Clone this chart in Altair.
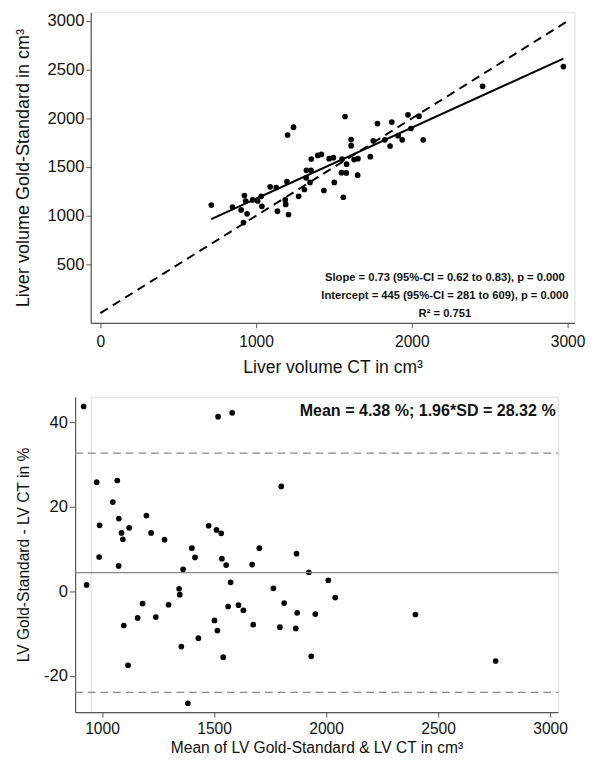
import altair as alt
import pandas as pd

# ---------- Top panel: regression ----------
ct_volume = [2973, 2454, 1571, 1202, 1240, 1779, 1871, 1975, 2046, 1994, 1912, 1938, 2073,
             1860, 1827, 1752, 1733, 1610, 1610, 1654, 1629, 1581, 1552, 1548, 1579, 1652,
             1496, 1469, 1419, 1396, 1354, 1323, 1352, 1321, 1346, 1502, 1310, 1435, 1198,
             1090, 1129, 925, 1033, 1273, 1560,
             712, 848, 904, 933, 942, 919, 977, 1010, 1037, 1137, 1187, 1190, 1208]
gs_volume = [2533, 2330, 2020, 1830, 1910, 1947, 1963, 2037, 2023, 1897, 1823, 1780, 1780,
             1717, 1780, 1770, 1607, 1783, 1720, 1587, 1577, 1530, 1583, 1443, 1440, 1417,
             1597, 1587, 1630, 1620, 1583, 1467, 1467, 1390, 1343, 1343, 1270, 1260, 1350,
             1297, 1290, 1207, 1200, 1200, 1190,
             1110, 1090, 1060, 1150, 1020, 930, 1163, 1153, 1097, 1047, 1163, 1117, 1013]

fit_x = [712, 2973]
fit_y = [965, 2615]
identity_x = [0, 3000]
identity_y = [0, 3000]

stats_text = ["Slope = 0.73 (95%-CI = 0.62 to 0.83), p = 0.000",
              "Intercept = 445 (95%-CI = 281 to 609), p = 0.000",
              "R² = 0.751"]
stats_x = [2212, 2212, 2212]
stats_y = [360, 170, -10]

# ---------- Bottom panel: Bland-Altman ----------
ba_mean = [918, 1518, 1581, 976, 1068, 1800, 1048, 1198, 989, 1075, 1121, 1087, 1093, 1219,
           1279, 1476, 1511, 1532, 1401, 1702, 1868, 987, 1415, 1535,
           1074, 1554, 1670, 1362, 931, 1574, 1923, 2010, 1344, 1347, 1765, 2041, 1181, 1297,
           1563, 1609, 1631, 1813, 1871, 1952, 1159, 1240, 1502, 1097, 1675, 1515, 1794, 1865,
           2399, 1430, 1354, 1541, 1934, 1116, 2757, 1383]
ba_diff = [43.7, 41.3, 42.2, 25.8, 26.2, 24.8, 21.1, 17.9, 15.6, 17.2, 15.0, 13.8, 12.3, 13.8,
           12.2, 15.5, 14.5, 13.7, 10.2, 10.2, 8.9, 8.1, 8.0, 7.7,
           6.0, 6.2, 6.3, 5.2, 1.5, 2.1, 4.5, 2.6, 0.6, -0.8, 0.7, -1.5, -2.9, -3.2,
           -3.6, -3.3, -4.5, -2.8, -5.1, -5.4, -6.3, -6.1, -6.9, -8.1, -7.9, -9.3, -8.5, -8.8,
           -5.5, -11.1, -13.1, -15.6, -15.4, -17.5, -16.5, -26.5]

mean_diff = 4.38
limits = [32.70, -23.94]
ba_text = ["Mean = 4.38 %; 1.96*SD = 28.32 %"]

BOT_X_DOMAIN = [880, 3035]

FONT = "Liberation Sans"
AXIS_COLOR = "#555555"

# ---------- build top ----------
top_pts = pd.DataFrame({"ct": ct_volume, "gs": gs_volume})
fit_df = pd.DataFrame({"ct": fit_x, "gs": fit_y})
id_df = pd.DataFrame({"ct": identity_x, "gs": identity_y})
st_df = pd.DataFrame({"t": stats_text, "x": stats_x, "y": stats_y})

xs_top = alt.Scale(domain=[-62, 3044], nice=False, zero=False)
ys_top = alt.Scale(domain=[-100, 3090], nice=False, zero=False)

x_top_axis = alt.Axis(values=[0, 1000, 2000, 3000], format="d", title="Liver volume CT in cm³",
                      grid=False, labelFontSize=16, titleFontSize=18, titleFontWeight="normal",
                      labelFont=FONT, titleFont=FONT, domainColor=AXIS_COLOR, tickColor=AXIS_COLOR,
                      tickSize=5, labelPadding=6, titlePadding=10, labelColor="#111",
                      titleColor="#111", labelFlush=False, domainWidth=1.2)
y_top_axis = alt.Axis(values=[500, 1000, 1500, 2000, 2500, 3000], format="d",
                      title="Liver volume Gold-Standard in cm³",
                      grid=False, labelFontSize=17, titleFontSize=18.5, titleFontWeight="normal",
                      labelFont=FONT, titleFont=FONT, domainColor=AXIS_COLOR, tickColor=AXIS_COLOR,
                      tickSize=5, labelPadding=2, titlePadding=15, labelColor="#111",
                      titleColor="#111", labelFlush=False, domainWidth=1.2)

top_identity = alt.Chart(id_df).mark_line(color="black", strokeWidth=2, strokeDash=[9, 6]).encode(
    x=alt.X("ct:Q", scale=xs_top, axis=x_top_axis),
    y=alt.Y("gs:Q", scale=ys_top, axis=y_top_axis))
top_fit = alt.Chart(fit_df).mark_line(color="black", strokeWidth=2).encode(
    x=alt.X("ct:Q", scale=xs_top), y=alt.Y("gs:Q", scale=ys_top))
top_points = alt.Chart(top_pts).mark_circle(color="black", opacity=1, size=34).encode(
    x=alt.X("ct:Q", scale=xs_top), y=alt.Y("gs:Q", scale=ys_top))
top_text = alt.Chart(st_df).mark_text(font=FONT, fontSize=11.5, fontWeight="bold", color="#111",
                                      align="center", baseline="middle").encode(
    x=alt.X("x:Q", scale=xs_top), y=alt.Y("y:Q", scale=ys_top), text="t:N")

top = alt.layer(top_identity, top_fit, top_points, top_text).properties(width=497, height=319)

# ---------- build bottom ----------
# the bottom plot's axis sits 16px left of the top one: extend the x range leftwards
ba_df = pd.DataFrame({"m": ba_mean, "d": ba_diff})
mean_df = pd.DataFrame({"d": [mean_diff], "x0": [BOT_X_DOMAIN[0]], "x1": [BOT_X_DOMAIN[1]]})
lim_df = pd.DataFrame({"d": limits, "x0": [BOT_X_DOMAIN[0]] * 2, "x1": [BOT_X_DOMAIN[1]] * 2})
bt_df = pd.DataFrame({"t": ba_text, "x": [3025], "y": [42.6]})

SHIFT = 16
BOT_W = 480
xs_bot = alt.Scale(domain=BOT_X_DOMAIN, nice=False, zero=False, range=[-SHIFT, BOT_W])
ys_bot = alt.Scale(domain=[-28.6, 46], nice=False, zero=False)

x_bot_axis = alt.Axis(values=[1000, 1500, 2000, 2500, 3000], format="d",
                      title="Mean of LV Gold-Standard & LV CT in cm³",
                      grid=False, labelFontSize=16, titleFontSize=16, titleFontWeight="normal",
                      labelFont=FONT, titleFont=FONT, domainColor=AXIS_COLOR, tickColor=AXIS_COLOR,
                      tickSize=5, labelPadding=4, titlePadding=3, labelColor="#111",
                      titleColor="#111", labelFlush=False, domainWidth=1.2)
y_bot_axis = alt.Axis(values=[-20, 0, 20, 40], labelExpr="toString(datum.value)",
                      title="LV Gold-Standard - LV CT in %",
                      grid=False, labelFontSize=17, titleFontSize=16, titleFontWeight="normal",
                      labelFont=FONT, titleFont=FONT, domainColor=AXIS_COLOR, tickColor=AXIS_COLOR,
                      tickSize=6, labelPadding=2, titlePadding=12, labelColor="#111",
                      titleColor="#111", labelFlush=False, domainWidth=1.2, offset=SHIFT)

bot_points = alt.Chart(ba_df).mark_circle(color="black", opacity=1, size=34).encode(
    x=alt.X("m:Q", scale=xs_bot, axis=x_bot_axis),
    y=alt.Y("d:Q", scale=ys_bot, axis=y_bot_axis))
bot_mean = alt.Chart(mean_df).mark_rule(color="#888888", strokeWidth=1.3).encode(
    x=alt.X("x0:Q", scale=xs_bot), x2="x1:Q", y=alt.Y("d:Q", scale=ys_bot))
bot_lim = alt.Chart(lim_df).mark_rule(color="#888888", strokeWidth=1.3, strokeDash=[8, 5]).encode(
    x=alt.X("x0:Q", scale=xs_bot), x2="x1:Q", y=alt.Y("d:Q", scale=ys_bot))
bot_text = alt.Chart(bt_df).mark_text(font=FONT, fontSize=16.5, fontWeight="bold", color="#111",
                                      align="right", baseline="middle").encode(
    x=alt.X("x:Q", scale=xs_bot), y=alt.Y("y:Q", scale=ys_bot), text="t:N")

bottom = alt.layer(bot_points, bot_mean, bot_lim, bot_text).properties(width=BOT_W, height=324)

chart = alt.concat(top, bottom, columns=1, spacing=19).resolve_scale(
    x="independent", y="independent").properties(
    padding={"left": 5, "top": -7, "right": 5, "bottom": 5}).configure_view(
    strokeWidth=0, stroke="transparent").configure(background="white")

chart.save("out.html", embed_options={"renderer": "svg", "actions": False})
